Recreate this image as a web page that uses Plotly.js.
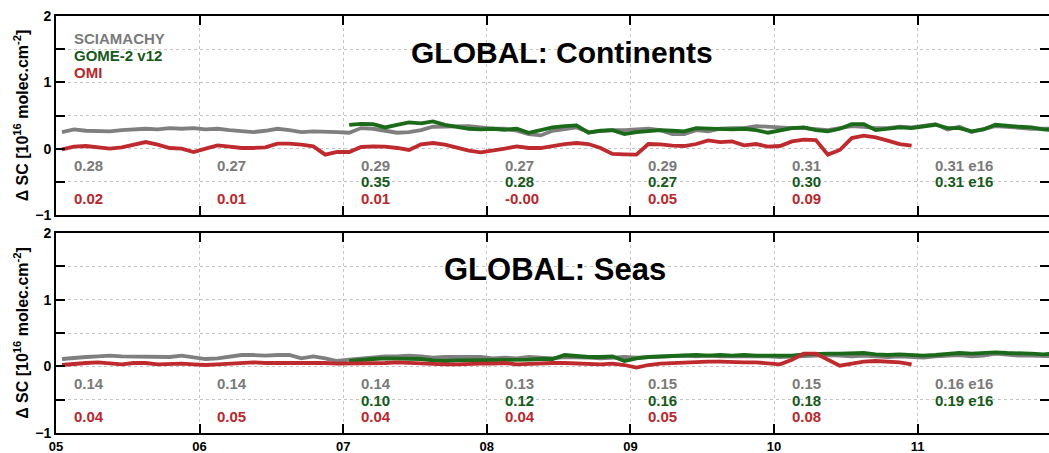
<!DOCTYPE html>
<html>
<head>
<meta charset="utf-8">
<script src="https://cdn.plot.ly/plotly-3.0.1.min.js"></script>
<style>
html,body{margin:0;padding:0;background:#fff;}
#chart{width:1049px;height:453px;}
</style>
</head>
<body>
<div id="chart"></div>
<script>
// ---- data ----
const yearTicks = [2005, 2006, 2007, 2008, 2009, 2010, 2011];
const yearLabels = ['05', '06', '07', '08', '09', '10', '11'];

const seriesNames = ['SCIAMACHY', 'GOME-2 v12', 'OMI'];
const panelTitles = ['GLOBAL: Continents', 'GLOBAL: Seas'];

// monthly values, Continents (10^16 molec/cm2)
const sciaLand = [
  0.25,0.29,0.27,0.26,0.26,0.28,0.29,0.30,0.29,0.31,0.30,0.31,
  0.29,0.30,0.28,0.27,0.25,0.27,0.30,0.28,0.25,0.26,0.26,0.25,
  0.24,0.31,0.30,0.27,0.24,0.25,0.28,0.33,0.33,0.34,0.34,0.32,
  0.30,0.30,0.27,0.22,0.20,0.27,0.30,0.32,0.25,0.27,0.28,0.28,
  0.29,0.30,0.28,0.22,0.22,0.28,0.26,0.30,0.31,0.31,0.34,0.33,
  0.31,0.31,0.31,0.30,0.28,0.31,0.34,0.33,0.31,0.31,0.33,0.32,
  0.34,0.37,0.29,0.33,0.25,0.30,0.34,0.33,0.31,0.30,0.30,0.30
];
const gomeLand = [ // from Jan 2007
  0.36,0.375,0.37,0.32,0.36,0.395,0.38,0.41,0.36,0.33,0.30,0.29,
  0.30,0.285,0.30,0.24,0.28,0.32,0.34,0.35,0.24,0.27,0.28,0.22,
  0.25,0.27,0.28,0.27,0.26,0.31,0.30,0.30,0.29,0.30,0.28,0.24,
  0.28,0.31,0.32,0.28,0.26,0.30,0.37,0.37,0.28,0.30,0.32,0.31,
  0.33,0.36,0.31,0.31,0.26,0.29,0.36,0.34,0.33,0.32,0.29,0.28
];
const omiLand = [
  -0.01,0.03,0.04,0.02,0.00,0.02,0.06,0.10,0.06,0.01,0.00,-0.05,
  0.00,0.05,0.03,0.01,0.01,0.02,0.075,0.075,0.06,0.035,-0.09,-0.05,
  -0.05,0.025,0.035,0.03,0.01,-0.02,0.065,0.085,0.06,0.01,-0.03,-0.055,
  -0.03,0.00,0.035,0.01,0.01,0.04,0.07,0.085,0.07,0.01,-0.08,-0.085,
  -0.09,0.07,0.065,0.045,0.04,0.07,0.125,0.10,0.11,0.05,0.07,0.03,
  0.04,0.11,0.135,0.13,-0.09,-0.02,0.16,0.195,0.17,0.12,0.07,0.045
];

// monthly values, Seas
const sciaSea = [
  0.11,0.13,0.14,0.15,0.16,0.15,0.15,0.14,0.15,0.14,0.16,0.13,
  0.11,0.12,0.15,0.17,0.17,0.16,0.17,0.17,0.12,0.15,0.12,0.08,
  0.10,0.12,0.14,0.15,0.15,0.16,0.15,0.13,0.14,0.14,0.15,0.14,
  0.12,0.13,0.12,0.14,0.13,0.12,0.14,0.14,0.13,0.12,0.13,0.14,
  0.13,0.14,0.15,0.15,0.16,0.15,0.16,0.15,0.15,0.16,0.15,0.15,
  0.14,0.15,0.15,0.16,0.17,0.16,0.15,0.16,0.15,0.14,0.15,0.14,
  0.13,0.15,0.16,0.17,0.15,0.16,0.19,0.17,0.16,0.16,0.15,0.15
];
const gomeSea = [ // from Jan 2007
  0.08,0.10,0.11,0.12,0.12,0.12,0.11,0.09,0.08,0.09,0.09,0.09,
  0.09,0.10,0.10,0.10,0.11,0.11,0.17,0.15,0.14,0.14,0.15,0.08,
  0.12,0.14,0.15,0.16,0.17,0.17,0.16,0.17,0.16,0.17,0.16,0.16,
  0.15,0.16,0.18,0.19,0.19,0.19,0.19,0.20,0.18,0.17,0.18,0.17,
  0.16,0.17,0.18,0.20,0.19,0.20,0.21,0.20,0.20,0.19,0.18,0.19
];
const omiSea = [
  0.02,0.04,0.05,0.06,0.05,0.03,0.05,0.05,0.03,0.04,0.04,0.03,
  0.02,0.03,0.04,0.05,0.06,0.05,0.05,0.06,0.06,0.06,0.05,0.04,
  0.04,0.04,0.05,0.05,0.06,0.05,0.04,0.03,0.03,0.03,0.04,0.04,
  0.04,0.05,0.03,0.04,0.05,0.05,0.05,0.04,0.04,0.03,0.04,0.02,
  -0.02,0.02,0.04,0.05,0.06,0.06,0.07,0.07,0.06,0.06,0.06,0.05,
  0.03,0.10,0.19,0.19,0.10,0.01,0.04,0.07,0.08,0.07,0.06,0.03
];

// yearly means printed in the panels
const sciaLandMeans = ['0.28', '0.27', '0.29', '0.27', '0.29', '0.31', '0.31 e16'];
const gomeLandMeans = ['', '', '0.35', '0.28', '0.27', '0.30', '0.31 e16'];
const omiLandMeans  = ['0.02', '0.01', '0.01', '-0.00', '0.05', '0.09', ''];
const sciaSeaMeans  = ['0.14', '0.14', '0.14', '0.13', '0.15', '0.15', '0.16 e16'];
const gomeSeaMeans  = ['', '', '0.10', '0.12', '0.16', '0.18', '0.19 e16'];
const omiSeaMeans   = ['0.04', '0.05', '0.04', '0.04', '0.05', '0.08', ''];

// ---- helpers ----
function monthX(startYear, n) {
  const out = [];
  for (let i = 0; i < n; i++) out.push(startYear + (i + 0.5) / 12);
  return out;
}

const colGray = '#7f7f7f', colGreen = '#1a6a1a', colRed = '#bf2a2f';
const txtGray = '#7a7a7a', txtGreen = '#17591a', txtRed = '#b8282d';
const FONT = 'Liberation Sans, Arial, sans-serif';

function line(x, y, color, xa, ya, name) {
  return {x: x, y: y, type: 'scatter', mode: 'lines', name: name,
          xaxis: xa, yaxis: ya, showlegend: false,
          line: {color: color, width: 3.8}, hoverinfo: 'skip'};
}

const traces = [
  line(monthX(2005, sciaLand.length), sciaLand, colGray, 'x', 'y', seriesNames[0]),
  line(monthX(2007, gomeLand.length), gomeLand, colGreen, 'x', 'y', seriesNames[1]),
  line(monthX(2005, omiLand.length), omiLand, colRed, 'x', 'y', seriesNames[2]),
  line(monthX(2005, sciaSea.length), sciaSea, colGray, 'x2', 'y2', seriesNames[0]),
  line(monthX(2007, gomeSea.length), gomeSea, colGreen, 'x2', 'y2', seriesNames[1]),
  line(monthX(2005, omiSea.length), omiSea, colRed, 'x2', 'y2', seriesNames[2])
];

const annotations = [];
function addMeans(arr, color, xref, yref, yv) {
  arr.forEach((t, i) => {
    if (!t) return;
    annotations.push({x: yearTicks[i] + 0.11, y: yv, xref: xref, yref: yref,
      text: t, showarrow: false, xanchor: 'left', yanchor: 'middle',
      font: {family: FONT, size: 15, color: color, weight: 'bold'}});
  });
}
addMeans(sciaLandMeans, txtGray, 'x', 'y', -0.26);
addMeans(gomeLandMeans, txtGreen, 'x', 'y', -0.50);
addMeans(omiLandMeans, txtRed, 'x', 'y', -0.75);
addMeans(sciaSeaMeans, txtGray, 'x2', 'y2', -0.26);
addMeans(gomeSeaMeans, txtGreen, 'x2', 'y2', -0.51);
addMeans(omiSeaMeans, txtRed, 'x2', 'y2', -0.76);

// legend as coloured text
const legCols = [txtGray, txtGreen, txtRed];
seriesNames.forEach((n, i) => {
  annotations.push({x: 2005.11, y: 1.66 - i * 0.255, xref: 'x', yref: 'y',
    text: '<b>' + n + '</b>', showarrow: false, xanchor: 'left', yanchor: 'middle',
    font: {family: FONT, size: 15, color: legCols[i]}});
});

// panel titles
annotations.push({x: 0.51, y: 1.45, xref: 'paper', yref: 'y', text: '<b>' + panelTitles[0] + '</b>',
  showarrow: false, xanchor: 'center', yanchor: 'middle', font: {family: FONT, size: 30, color: '#000'}});
annotations.push({x: 0.503, y: 1.45, xref: 'paper', yref: 'y2', text: '<b>' + panelTitles[1] + '</b>',
  showarrow: false, xanchor: 'center', yanchor: 'middle', font: {family: FONT, size: 31, color: '#000'}});

function xAxis(showLabels, anchor) {
  return {range: [2005, 2011.915], domain: [0, 1], anchor: anchor,
    tickvals: yearTicks, ticktext: yearLabels, showticklabels: showLabels,
    ticks: 'inside', ticklen: 9, tickwidth: 2, tickcolor: '#000',
    showline: true, linecolor: '#000', linewidth: 2, mirror: 'ticks',
    showgrid: true, gridcolor: '#c4c4c4', gridwidth: 1, griddash: 'dot',
    zeroline: false, fixedrange: true,
    tickfont: {family: FONT, size: 13, color: '#000', weight: 'bold'}};
}
function yAxis(dom, anchor) {
  return {range: [-1, 2], domain: dom, anchor: anchor,
    tickmode: 'linear', tick0: -1, dtick: 1,
    ticks: 'inside', ticklen: 9, tickwidth: 2, tickcolor: '#000',
    minor: {tick0: -1, dtick: 0.5, ticks: 'inside', ticklen: 9, tickwidth: 2, tickcolor: '#000',
            showgrid: true, gridcolor: '#c4c4c4', gridwidth: 1, griddash: 'dot'},
    showline: true, linecolor: '#000', linewidth: 2, mirror: 'ticks',
    showgrid: true, gridcolor: '#c4c4c4', gridwidth: 1, griddash: 'dot',
    zeroline: false, fixedrange: true,
    tickfont: {family: FONT, size: 14, color: '#000', weight: 'bold'},
    title: {text: '<b>Δ SC [10<sup>16</sup> molec.cm<sup>-2</sup>]</b>', standoff: 3,
      font: {family: FONT, size: 16, color: '#000'}}};
}

const layout = {
  width: 1049, height: 453,
  margin: {l: 56, r: 0, t: 16, b: 20, pad: 0},
  paper_bgcolor: '#fff', plot_bgcolor: '#fff',
  showlegend: false,
  xaxis: xAxis(false, 'y'),
  yaxis: yAxis([0.5228, 1], 'x'),
  xaxis2: xAxis(true, 'y2'),
  yaxis2: yAxis([0, 0.4796], 'x2'),
  annotations: annotations
};

Plotly.newPlot('chart', traces, layout, {displayModeBar: false, staticPlot: true});
</script>
</body>
</html>
